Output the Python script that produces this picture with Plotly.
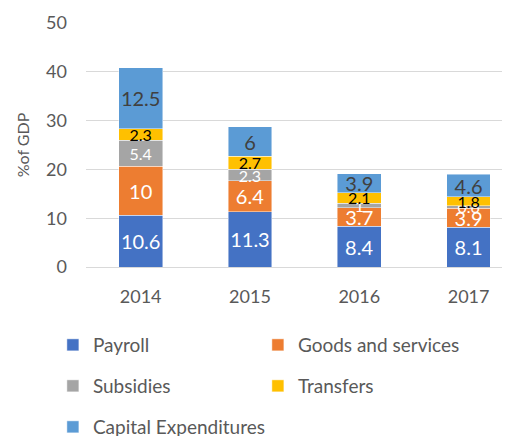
import plotly.graph_objects as go

years = ["2014", "2015", "2016", "2017"]
payroll = [10.6, 11.3, 8.4, 8.1]
goods = [10, 6.4, 3.7, 3.9]
subsidies = [5.4, 2.3, 1, 0.6]
transfers = [2.3, 2.7, 2.1, 1.8]
capital = [12.5, 6, 3.9, 4.6]
y_ticks = [0, 10, 20, 30, 40, 50]

FONT = "Lato"
GREY = "#595959"

series = [
    ("Payroll", payroll, "#4472C4", "white", 20, "legend"),
    ("Goods and services", goods, "#ED7D31", "white", 20, "legend"),
    ("Subsidies", subsidies, "#A5A5A5", "white", 16, "legend2"),
    ("Transfers", transfers, "#FFC000", "black", 16, "legend2"),
    ("Capital Expenditures", capital, "#5B9BD5", "#404040", 20, "legend3"),
]

fig = go.Figure()
for name, vals, color, tcolor, tsize, leg in series:
    fig.add_trace(go.Bar(
        x=years, y=vals, name=name,
        marker=dict(color=color, line=dict(color="rgba(255,255,255,0.6)", width=0.75)),
        text=[str(v) for v in vals], textposition="inside", insidetextanchor="middle",
        constraintext="none", textangle=0,
        textfont=dict(family=FONT, size=tsize, color=tcolor),
        width=0.4, legend=leg,
    ))

leg_common = dict(orientation="h", xref="container", yref="container", xanchor="left",
                  yanchor="middle", font=dict(family=FONT, size=19, color=GREY),
                  entrywidthmode="pixels", bgcolor="rgba(0,0,0,0)",
                  itemwidth=30, traceorder="normal")

LX = 0.088
fig.update_layout(
    barmode="stack",
    width=510, height=436,
    margin=dict(l=78, r=8, t=15, b=177, autoexpand=False),
    plot_bgcolor="white", paper_bgcolor="white",
    font=dict(family=FONT, color=GREY),
    xaxis=dict(range=[-0.5, 3.379], showgrid=False, showline=False, ticks="", automargin=False,
               tickfont=dict(family=FONT, size=18, color=GREY), ticklabelstandoff=17),
    yaxis=dict(range=[0, 50], tickvals=y_ticks, showgrid=True, gridcolor="#d9d9d9",
               gridwidth=1, zeroline=True, zerolinecolor="#d9d9d9", zerolinewidth=1,
               showline=False, ticks="", ticklabelstandoff=18, automargin=False,
               tickfont=dict(family=FONT, size=18, color=GREY),
               title=dict(text="%of GDP", font=dict(family=FONT, size=16, color=GREY), standoff=12)),
    legend=dict(x=LX, y=1 - 337 / 436, entrywidth=160, **leg_common),
    legend2=dict(x=LX, y=1 - 378 / 436, entrywidth=160, **leg_common),
    legend3=dict(x=LX, y=1 - 419 / 436, entrywidth=260, **leg_common),
    showlegend=True,
)

fig.write_html("out.html")
